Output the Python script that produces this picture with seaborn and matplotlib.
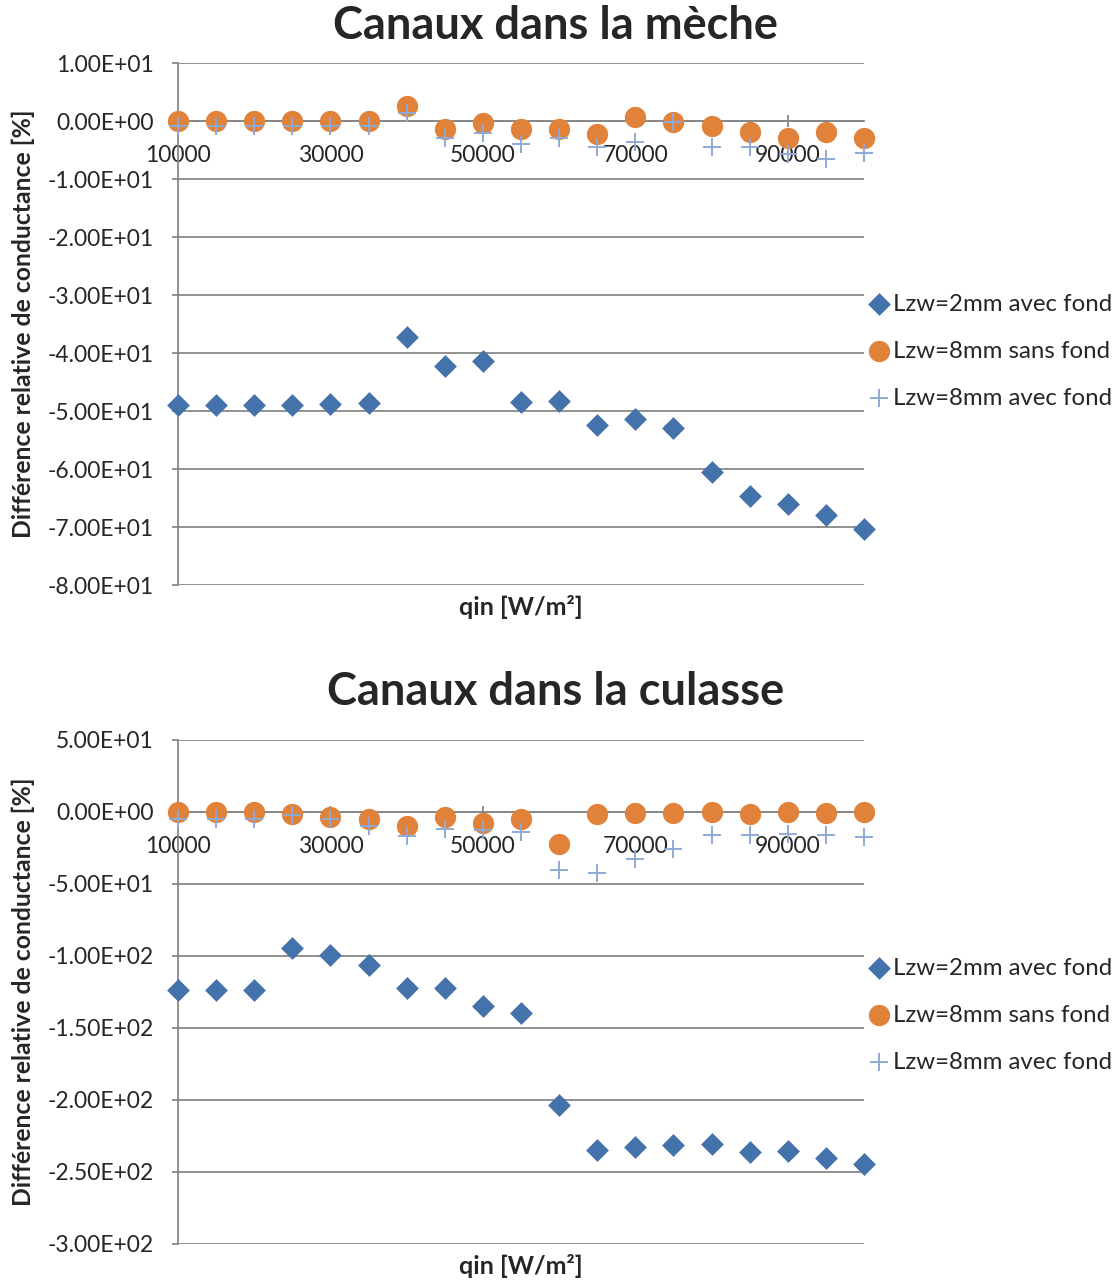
import matplotlib
matplotlib.use("Agg")
import matplotlib.pyplot as plt
import matplotlib.ticker as mticker
import seaborn as sns
import pandas as pd

# Heat flux values [W/m²]
qin = [10000, 15000, 20000, 25000, 30000, 35000, 40000, 45000, 50000, 55000,
       60000, 65000, 70000, 75000, 80000, 85000, 90000, 95000, 100000]

series_names = ["Lzw=2mm avec fond", "Lzw=8mm sans fond", "Lzw=8mm avec fond"]

# Channels in the wick: relative conductance difference [%]
meche_2mm_avec = [-49.0, -49.0, -48.9, -48.9, -48.8, -48.7, -37.3, -42.2, -41.4, -48.4,
                  -48.3, -52.4, -51.4, -52.9, -60.6, -64.7, -66.0, -67.9, -70.4]
meche_8mm_sans = [0.0, 0.0, 0.0, 0.0, 0.0, 0.0, 2.6, -1.4, -0.4, -1.3,
                  -1.3, -2.3, 0.7, -0.1, -0.9, -1.9, -3.0, -1.9, -3.0]
meche_8mm_avec = [-0.9, -0.9, -0.9, -0.9, -0.9, -0.9, 1.3, -3.0, -2.1, -4.0,
                  -3.0, -4.5, -3.6, -0.1, -4.5, -4.5, -5.7, -6.6, -5.6]

# Channels in the yoke: relative conductance difference [%]
culasse_2mm_avec = [-123.8, -123.8, -123.3, -94.2, -99.0, -106.2, -122.4, -121.9, -134.9, -139.9,
                    -203.7, -234.7, -232.6, -231.0, -230.3, -236.3, -235.4, -240.0, -244.2]
culasse_8mm_sans = [0.0, 0.0, 0.0, -1.5, -3.8, -5.1, -9.5, -3.8, -7.4, -5.1,
                    -22.4, -1.2, -0.7, -0.7, 0.0, -1.2, 0.0, -0.5, 0.2]
culasse_8mm_avec = [-5.1, -5.1, -5.1, -2.3, -5.1, -9.9, -16.8, -11.6, -12.3, -13.9,
                    -40.3, -42.6, -32.8, -25.9, -16.2, -16.2, -15.5, -16.2, -17.1]

x_ticks = [10000, 30000, 50000, 70000, 90000]

sns.set_theme(style="white")
plt.rcParams["font.family"] = ["Lato", "DejaVu Sans"]

BLUE = "#4472AA"
ORANGE = "#E0823A"
LIGHT = "#8EAAD6"
GRID = "#888888"

styles = {
    series_names[0]: dict(marker="D", color=BLUE, s=135, linewidth=0),
    series_names[1]: dict(marker="o", color=ORANGE, s=235, linewidth=0),
    series_names[2]: dict(marker="+", color=LIGHT, s=160, linewidth=1.4),
}

W, H = 1118, 1281
fig = plt.figure(figsize=(W / 100, H / 100), dpi=100)


def make_panel(rect, title, title_y, values, ylim, ystep, legend_y):
    ax = fig.add_axes(rect)
    df = pd.DataFrame({"qin": qin * 3,
                       "val": values[0] + values[1] + values[2],
                       "serie": sum([[n] * len(qin) for n in series_names], [])})
    for name in series_names:
        sub = df[df["serie"] == name]
        sns.scatterplot(data=sub, x="qin", y="val", ax=ax, label=name,
                        zorder=3, clip_on=False, **styles[name])
    ax.set_xlim(10000, 100000)
    ax.set_ylim(*ylim)
    yt = [ylim[0] + i * ystep for i in range(int(round((ylim[1] - ylim[0]) / ystep)) + 1)]
    ax.set_yticks(yt)
    ax.yaxis.set_major_formatter(mticker.FormatStrFormatter("%.2E"))
    ax.set_xticks(x_ticks)
    ax.xaxis.set_major_formatter(mticker.FormatStrFormatter("%d"))
    ax.grid(axis="y", color=GRID, linewidth=1.3, zorder=0)
    ax.grid(axis="x", visible=False)
    for sp in ["top", "right"]:
        ax.spines[sp].set_visible(False)
    ax.spines["left"].set_color(GRID)
    ax.spines["left"].set_linewidth(1.3)
    ax.spines["bottom"].set_position(("data", 0))
    ax.spines["bottom"].set_color(GRID)
    ax.spines["bottom"].set_linewidth(1.3)
    ax.tick_params(axis="y", direction="out", length=4.5, width=1.3, color=GRID,
                   labelsize=16.5, pad=13, left=True)
    ax.tick_params(axis="x", direction="inout", length=9, width=1.3, color=GRID,
                   labelsize=16.5, pad=13, bottom=True)
    ax.set_xlabel("")
    ax.set_ylabel("Différence relative de conductance [%]", fontsize=17.8,
                  fontweight="bold")
    ax.yaxis.set_label_coords(-0.208, 0.5)
    x0, y0, w, h = rect
    fig.text(x0 + w / 2, y0 - 22 / H, "qin [W/m²]", ha="center", va="center",
             fontsize=18, fontweight="bold")
    fig.text(0.497, title_y, title, ha="center", va="center", fontsize=32.5,
             fontweight="bold")
    ax.legend(loc="upper left", bbox_to_anchor=(856 / W, legend_y),
              bbox_transform=fig.transFigure, frameon=False, fontsize=17.3,
              handletextpad=0.0, labelspacing=1.08, borderaxespad=0,
              handlelength=1.15, markerscale=1.0)
    return ax


make_panel([178 / W, 1 - 585 / H, 686 / W, 522 / H], "Canaux dans la mèche",
           1 - 26 / H, [meche_2mm_avec, meche_8mm_sans, meche_8mm_avec],
           (-80, 10), 10, 1 - 284 / H)
make_panel([178 / W, 1 - 1244 / H, 686 / W, 504 / H], "Canaux dans la culasse",
           1 - 692 / H, [culasse_2mm_avec, culasse_8mm_sans, culasse_8mm_avec],
           (-300, 50), 50, 1 - 948 / H)

fig.savefig("out.png", dpi=100)
